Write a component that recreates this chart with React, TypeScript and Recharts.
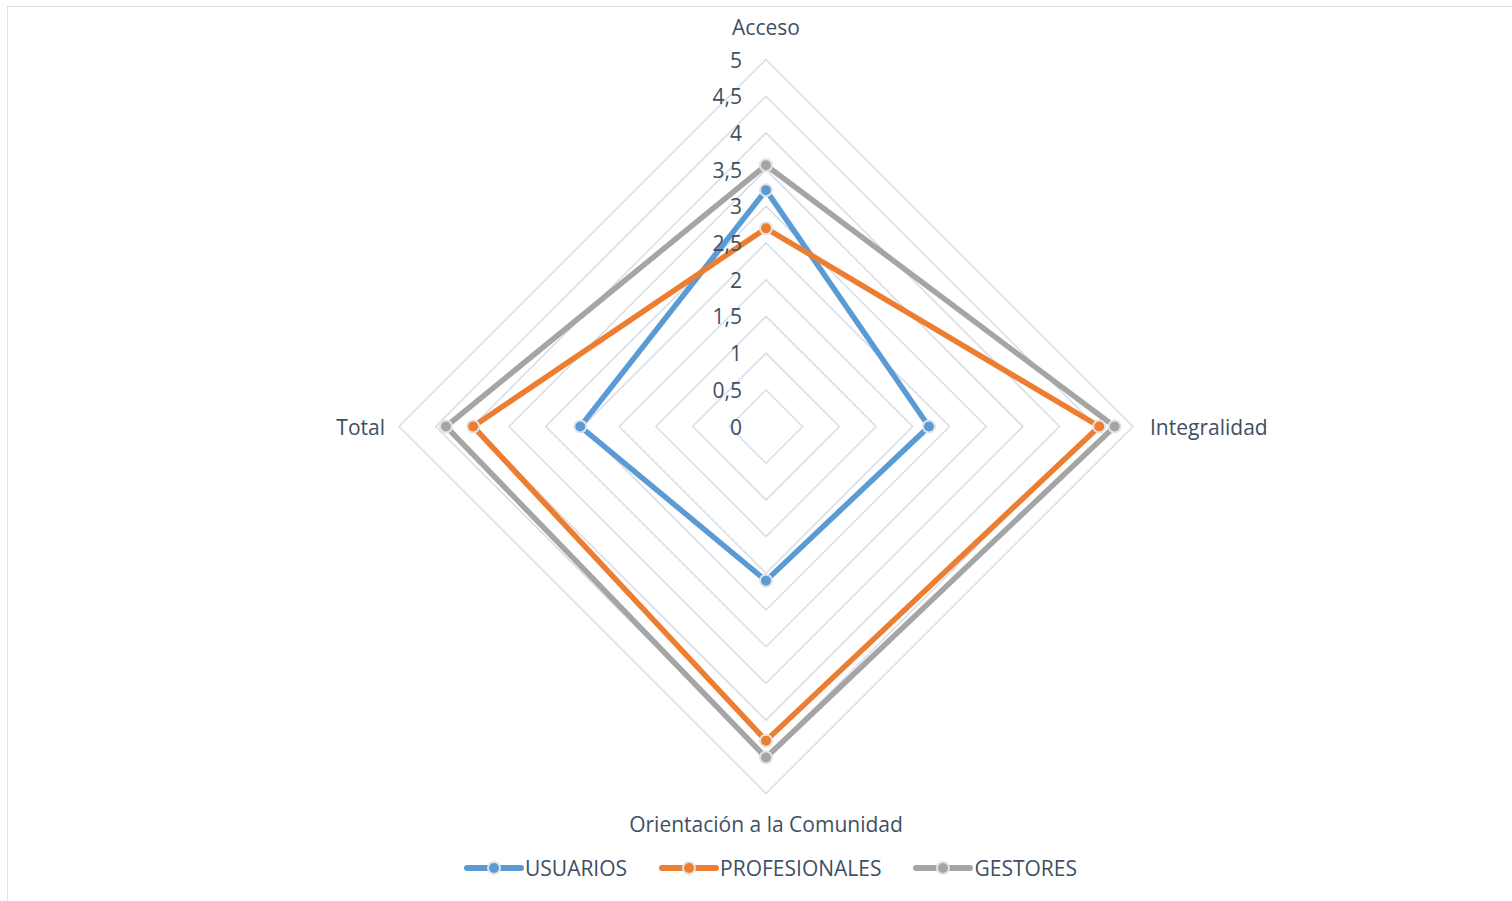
import React from 'react';
import { RadarChart, Radar, PolarGrid, PolarAngleAxis, PolarRadiusAxis, Legend } from 'recharts';

// Dimensions of the assessment
const categories = ['Acceso', 'Integralidad', 'Orientación a la Comunidad', 'Total'];

// Mean scores per respondent group
const usuarios = [3.22, 2.22, 2.1, 2.53];
const profesionales = [2.7, 4.54, 4.28, 3.99];
const gestores = [3.56, 4.75, 4.51, 4.36];

// Radius axis ticks (0 to 5 in steps of 0.5)
const radiusTicks = [0, 0.5, 1, 1.5, 2, 2.5, 3, 3.5, 4, 4.5, 5];

const seriesList = [
  { key: 'usuarios', name: 'USUARIOS', color: '#5b9bd5' },
  { key: 'profesionales', name: 'PROFESIONALES', color: '#ed7d31' },
  { key: 'gestores', name: 'GESTORES', color: '#a5a5a5' },
];

const data = categories.map((c, i) => ({
  category: c,
  usuarios: usuarios[i],
  profesionales: profesionales[i],
  gestores: gestores[i],
}));

const FONT = '"Open Sans", Lato, sans-serif';
const TEXT = '#404f63';
const FS = 21;

const AngleTick = (props: any) => {
  const { x, y, payload } = props;
  const idx = categories.indexOf(payload.value);
  let dx = 0;
  let dy = 0;
  let anchor: 'start' | 'middle' | 'end' = 'middle';
  if (idx === 0) dy = -25;
  else if (idx === 1) { dx = 9; anchor = 'start'; }
  else if (idx === 2) dy = 22;
  else { dx = -6; anchor = 'end'; }
  return (
    <text
      x={x + dx}
      y={y + dy}
      textAnchor={anchor}
      dominantBaseline="central"
      fill={TEXT}
      fontSize={FS}
      fontFamily={FONT}
    >
      {payload.value}
    </text>
  );
};

const RadiusTick = (props: any) => {
  const { x, y, payload } = props;
  return (
    <text
      x={x - 24}
      y={y}
      textAnchor="end"
      dominantBaseline="central"
      fill={TEXT}
      fontSize={FS}
      fontFamily={FONT}
    >
      {String(payload.value).replace('.', ',')}
    </text>
  );
};

const LegendContent = () => (
  <div
    style={{
      display: 'flex',
      justifyContent: 'center',
      alignItems: 'center',
      gap: 32,
      fontFamily: FONT,
      fontSize: FS,
      color: TEXT,
      paddingLeft: 29,
    }}
  >
    {seriesList.map((s) => (
      <div key={s.key} style={{ display: 'flex', alignItems: 'center' }}>
        <svg width={60} height={20} style={{ marginRight: 1 }}>
          <line x1={3} y1={10} x2={57} y2={10} stroke={s.color} strokeWidth={6} strokeLinecap="round" />
          <circle cx={30} cy={10} r={6} fill={s.color} stroke="#e4e4e4" strokeWidth={2} />
        </svg>
        <span>{s.name}</span>
      </div>
    ))}
  </div>
);

export default function App() {
  return (
    <div style={{ position: 'absolute', left: 0, top: 0, width: 1512, height: 901, background: '#fff', overflow: 'hidden' }}>
      <div
        style={{
          position: 'absolute',
          left: 7,
          top: 6,
          width: 1530,
          height: 930,
          border: '1.5px solid #dfe3e8',
          boxSizing: 'border-box',
        }}
      />
      <div style={{ position: 'absolute', left: 0, top: 0 }}>
        <RadarChart
          width={1512}
          height={901}
          data={data}
          cx={766}
          cy={426.5}
          outerRadius={367}
          margin={{ top: 0, right: 0, bottom: 0, left: 0 }}
        >
          <PolarGrid gridType="polygon" radialLines={false} stroke="#d6dde8" strokeWidth={1.5} />
          <PolarAngleAxis dataKey="category" tick={<AngleTick />} tickLine={false} axisLine={false} />
          <PolarRadiusAxis
            angle={90}
            domain={[0, 5]}
            ticks={radiusTicks}
            tick={<RadiusTick />}
            tickLine={false}
            axisLine={false}
          />
          {seriesList.map((s) => (
            <Radar
              key={s.key}
              name={s.name}
              dataKey={s.key}
              stroke={s.color}
              strokeWidth={5.5}
              fill="none"
              fillOpacity={0}
              dot={{ r: 6, fill: s.color, stroke: '#e4e4e4', strokeWidth: 2, fillOpacity: 1 }}
              isAnimationActive={false}
            />
          ))}
          <Legend
            content={<LegendContent />}
            wrapperStyle={{ position: 'absolute', left: 0, top: 854, width: 1512 }}
          />
        </RadarChart>
      </div>
    </div>
  );
}
